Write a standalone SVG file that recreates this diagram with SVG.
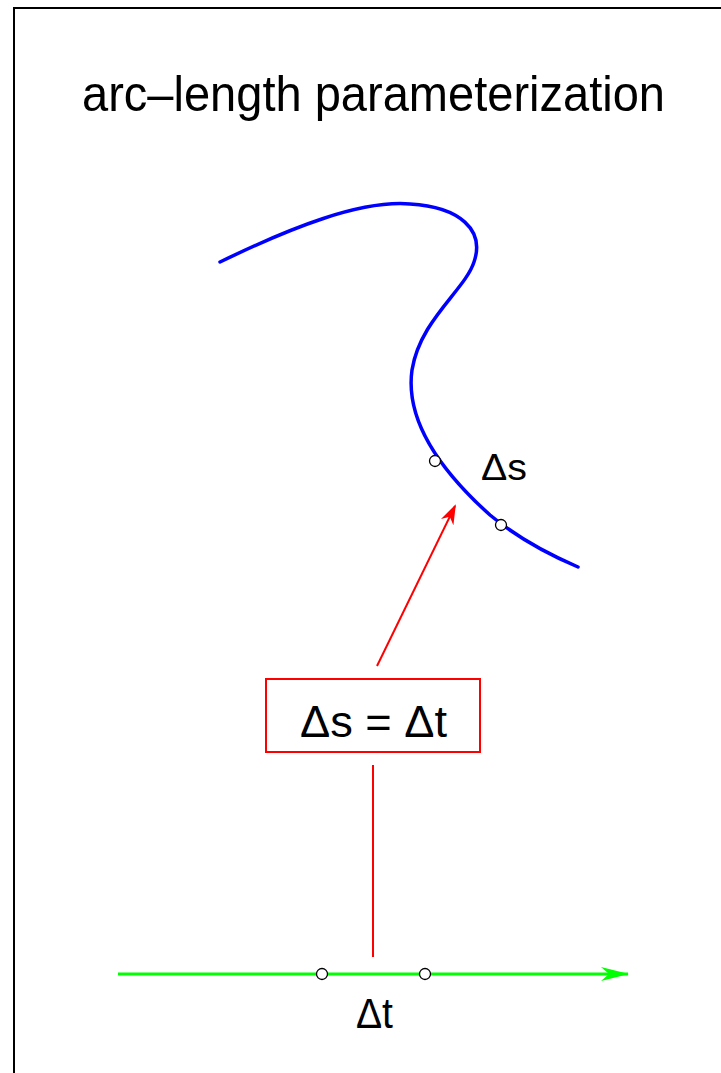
<svg xmlns="http://www.w3.org/2000/svg" width="721" height="1073" viewBox="0 0 721 1073">
<style>
text{font-family:"Liberation Sans",Arial,sans-serif;fill:#000}
.pt{fill:#fff;stroke:#000;stroke-width:1.3}
</style>
<defs>
<marker id="ar" viewBox="0 0 20 14" refX="18" refY="7" markerWidth="20" markerHeight="14" markerUnits="userSpaceOnUse" orient="auto">
<path d="M0,0 L20,7 L0,14 L6,7 Z" fill="#f00"/>
</marker>
<marker id="ag" viewBox="0 0 28 14" refX="27" refY="7" markerWidth="28" markerHeight="14" markerUnits="userSpaceOnUse" orient="auto">
<path d="M0,0 L28,7 L0,14 L8,7 Z" fill="#0f0"/>
</marker>
</defs>
<rect x="0" y="0" width="721" height="1073" fill="#fff"/>
<rect x="14" y="8" width="720" height="1080" fill="none" stroke="#000" stroke-width="2"/>
<text x="82" y="111" font-size="50" textLength="583" lengthAdjust="spacingAndGlyphs">arc–length parameterization</text>
<g id="curve">
<path d="M220,262 C290,228 360,200 410,204 C460,207 485,230 474,262 C465,290 420,320 412,370 C405,420 440,470 490,515 C520,540 550,555 578,567" fill="none" stroke="#00f" stroke-width="3.5" stroke-linecap="round"/>
<circle class="pt" cx="435" cy="461" r="5.5"/>
<circle class="pt" cx="501" cy="525" r="5.5"/>
<text x="481" y="480" font-size="37" textLength="46" lengthAdjust="spacingAndGlyphs">Δs</text>
</g>
<g id="box">
<rect x="266" y="679" width="214" height="73" fill="#fff" stroke="#f00" stroke-width="2"/>
<text x="300" y="737" font-size="45" textLength="147" lengthAdjust="spacingAndGlyphs">Δs = Δt</text>
</g>
<g id="axis">
<line x1="118" y1="974" x2="628" y2="974" stroke="#0f0" stroke-width="3" marker-end="url(#ag)"/>
<circle class="pt" cx="322" cy="974" r="5.5"/>
<circle class="pt" cx="425" cy="974" r="5.5"/>
<text x="356" y="1028" font-size="42" textLength="37" lengthAdjust="spacingAndGlyphs">Δt</text>
</g>
<g id="connectors">
<line x1="377" y1="666" x2="455" y2="506" stroke="#f00" stroke-width="2" marker-end="url(#ar)"/>
<line x1="373" y1="765" x2="373" y2="957" stroke="#f00" stroke-width="2"/>
</g>
</svg>
